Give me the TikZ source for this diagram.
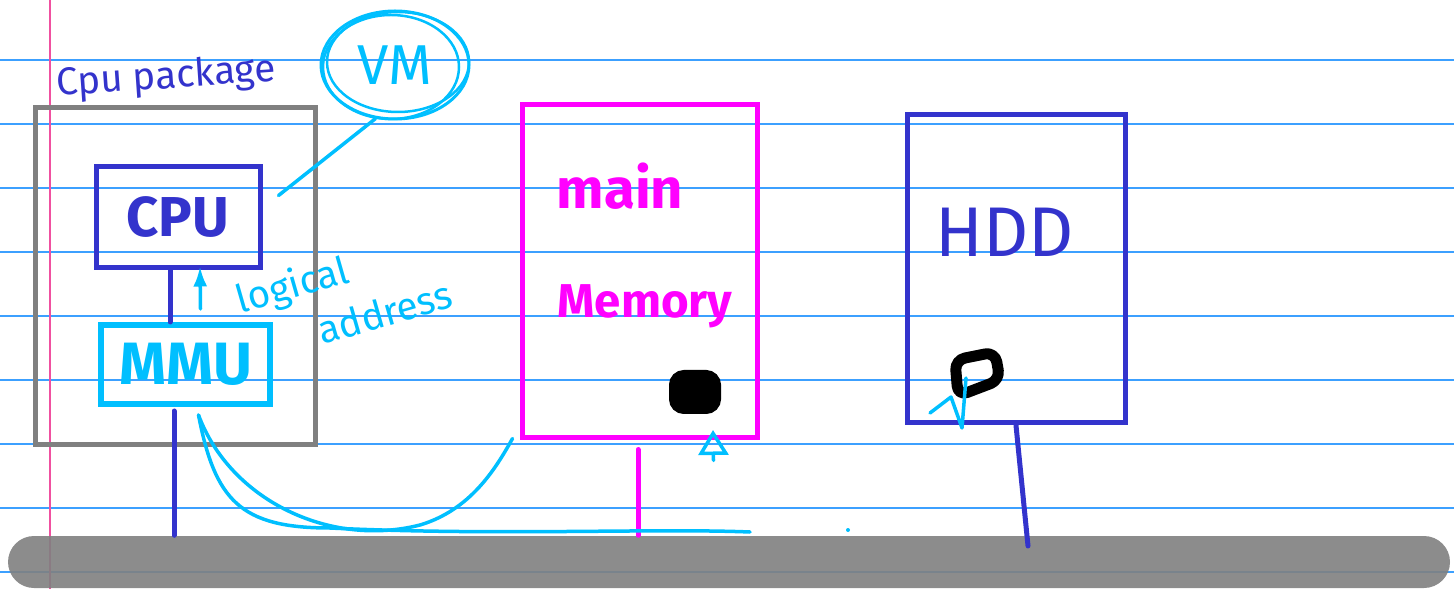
\documentclass[tikz,border=0pt]{standalone}
\usepackage{fontspec}
\setmainfont{Fira Sans}
\usetikzlibrary{positioning,arrows.meta,calc,shapes.geometric}
\definecolor{ruleblue}{RGB}{60,160,255}
\definecolor{marginpink}{RGB}{240,80,160}
\definecolor{pkggray}{RGB}{128,128,128}
\definecolor{inkblue}{RGB}{51,51,204}
\definecolor{inkcyan}{RGB}{0,191,255}
\definecolor{inkpink}{RGB}{255,0,255}
\newcommand{\inksize}[1]{\fontsize{#1}{#1}\selectfont}
\tikzset{
  hbox/.style={draw,line width=0.5mm,inner sep=0pt},
  wire/.style={line width=0.5mm,line cap=round},
  scribble/.style={inkcyan,line width=0.35mm,line cap=round,line join=round}
}

\begin{document}
\begin{tikzpicture}[x=0.1mm,y=-0.1mm]
\useasboundingbox (0,0) rectangle (1454,589);
% ruled paper
\foreach \ry in {60,124,...,572}{
  \draw[ruleblue,line width=0.4pt] (0,\ry) -- (1454,\ry);
}
\draw[marginpink,line width=0.4pt] (50,0) -- (50,589);
% bus
\node[fill=pkggray,opacity=0.9,rounded corners=2.6mm,minimum width=144.2mm,minimum height=5.2mm,inner sep=0pt] (bus) at (729,562) {};
% cpu package
\node[hbox,draw=pkggray,minimum width=28mm,minimum height=33.7mm] (pkg) at (175,276.5) {};
\node[inkblue,font=\inksize{11},rotate=4] (pkglabel) at (166,78) {Cpu package};
\node[hbox,draw=inkblue,minimum width=16.4mm,minimum height=10.1mm,text=inkblue,font=\inksize{16}\bfseries] (cpu) at (178,217.5) {CPU};
\node[hbox,draw=inkcyan,line width=0.6mm,minimum width=16.9mm,minimum height=7.9mm,text=inkcyan,font=\inksize{17}\bfseries] (mmu) at (185.5,364.5) {MMU};
\draw[wire,inkblue] ($(cpu.south)+(-8,0)$) -- ($(mmu.north)+(-15.5,0)$);
\coordinate (mmuout) at ($(mmu.south)+(-11.5,4)$);
\draw[wire,inkblue] (mmuout) -- (mmuout |- bus.north);
% logical address
\draw[scribble,-{Latex[length=2mm,width=1.4mm]}] ($(mmu.north)+(15,-13)$) -- ($(cpu.south)+(22,-4)$);
\node[inkcyan,font=\inksize{11},rotate=16,align=left,inner sep=0pt] (logaddr) at (344,296) {logical\\[4pt]\hspace*{7mm}address};
% VM bubble
\node[ellipse,draw=inkcyan,line width=0.3mm,minimum width=14.8mm,minimum height=10.8mm,text=inkcyan,font=\inksize{16}] (vm) at (395,65) {VM};
\draw[inkcyan,line width=0.25mm] ($(vm.center)+(3,-3)$) ellipse (7.1mm and 5.0mm);
\draw[inkcyan,line width=0.25mm] ($(vm.center)+(-4,2)$) ellipse (6.8mm and 5.2mm);
\draw[scribble] (vm.250) -- ($(cpu.east)+(16,-22)$);
% main memory
\node[hbox,draw=inkpink,minimum width=23.5mm,minimum height=33.3mm] (mem) at (639.5,271.5) {};
\node[inkpink,font=\inksize{16}\bfseries] (main) at (620,186) {main};
\node[inkpink,font=\inksize{13.5}\bfseries] (memory) at (645,306) {Memory};
\node[draw=black,fill=black,line width=1mm,rounded corners=1mm,minimum width=4.2mm,minimum height=3.4mm,inner sep=0pt] (memblk) at (695,392) {};
\draw[scribble,-{Triangle[open,length=2.5mm,width=3mm]}] ($(mem.south)+(74,20)$) -- ($(memblk.south)+(18,16)$);
\coordinate (memout) at ($(mem.south)+(-1.5,9)$);
\draw[wire,inkpink] (memout) -- (memout |- bus.north);
% translation path
\draw[scribble] ($(mmu.south)+(13,8)$) .. controls (215,500) and (240,528) .. (330,528)
  .. controls (500,536) and (650,528) .. (750,532);
\draw[scribble] ($(mmu.south)+(13,8)$) .. controls (230,500) and (330,548) .. (420,525)
  .. controls (470,510) and (495,470) .. ($(mem.south west)+(-7,-2)$);
\fill[inkcyan] (848,530) circle (0.2mm);
% hdd
\node[hbox,draw=inkblue,minimum width=21.8mm,minimum height=30.8mm] (hdd) at (1016,269) {};
\node[inkblue,font=\inksize{20}] (hddlabel) at (1005,232) {HDD};
\draw[black,line width=1.1mm,line join=round,rounded corners=1mm] (955,360) -- (995,352) -- (1000,380) -- (958,396) -- cycle;
\draw[scribble] (930,413) -- (951,397) -- (962,428) -- (966,378);
\coordinate (hddtap) at (1028,546);
\draw[wire,inkblue] (hdd.south) -- (hddtap);
\end{tikzpicture}
\end{document}
